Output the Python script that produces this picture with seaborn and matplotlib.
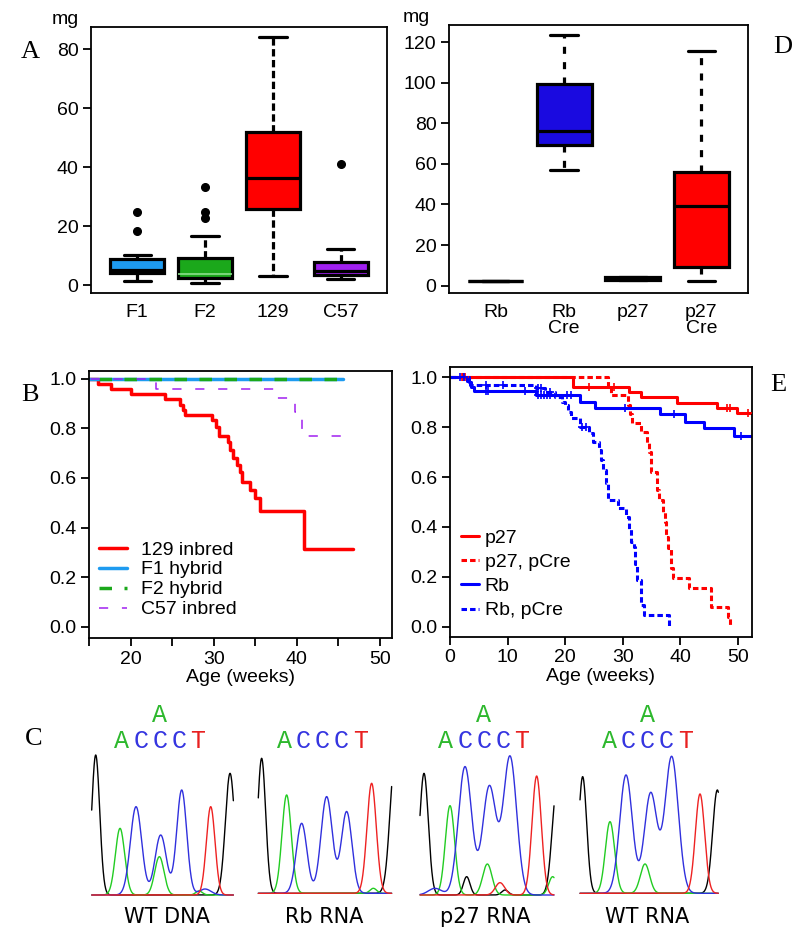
import numpy as np
import matplotlib
matplotlib.use('Agg')
import matplotlib.pyplot as plt
import seaborn as sns

# ---- A: tumour weight (mg) by strain, box summaries
a_groups = ['F1', 'F2', '129', 'C57']
a_q1 = [4.2, 2.5, 25.9, 3.3]
a_med = [5.1, 3.7, 36.2, 4.6]
a_q3 = [8.7, 9.0, 51.8, 7.9]
a_lo = [1.4, 0.7, 3.2, 1.9]
a_hi = [10.2, 16.6, 84.2, 12.1]
a_out = [[18.3, 24.6], [22.9, 24.6, 33.1], [], [41.2]]
a_colors = ['#1E9BF0', '#1BA81B', '#FF0000', '#A020F0']

# ---- D: tumour weight (mg) by genotype
d_groups = ['Rb', 'Rb\nCre', 'p27', 'p27\nCre']
d_q1 = [2.3, 69.3, 3.0, 9.4]
d_med = [2.3, 76.3, 3.6, 39.3]
d_q3 = [2.3, 99.2, 4.2, 56.0]
d_lo = [2.3, 57.0, 3.0, 2.3]
d_hi = [2.3, 123.5, 4.2, 115.8]
d_out = [[], [], [], []]
d_colors = ['#1A0AE0', '#1A0AE0', '#FF0000', '#FF0000']

# ---- B: survival by strain (event times in weeks, survival after event)
b_129_t = [16.1, 17.6, 20.1, 24.1, 26.0, 26.3, 26.6, 29.75, 30.27, 30.67, 31.75, 32.0,
           32.35, 32.75, 33.15, 33.36, 34.4, 34.97, 35.57, 40.8]
b_129_s = [0.981, 0.958, 0.938, 0.918, 0.895, 0.874, 0.853, 0.833, 0.806, 0.770, 0.746, 0.712,
           0.679, 0.652, 0.625, 0.585, 0.551, 0.518, 0.467, 0.312]
b_129_end = 46.7
b_f1_end = 45.5
b_f2_end = 44.8
b_c57_t = [23.0, 37.4, 39.8, 40.6]
b_c57_s = [0.961, 0.921, 0.867, 0.769]
b_c57_end = 46.6

# ---- E: survival by genotype
e_p27_t = [21.3, 31.1, 33.2, 39.5, 46.3, 49.9]
e_p27_s = [0.962, 0.942, 0.922, 0.898, 0.876, 0.855]
e_p27_cens = [2.0, 2.6, 24.2, 28.4, 48.1, 48.6, 51.8]
e_p27cre_t = [27.4, 28.0, 31.0, 31.3, 31.6, 33.2, 34.3, 34.6, 34.9, 36.0, 36.3, 37.0,
              37.3, 37.6, 37.8, 38.3, 38.7, 41.5, 45.3, 48.2, 48.7]
e_p27cre_s = [0.962, 0.929, 0.889, 0.852, 0.815, 0.782, 0.735, 0.70, 0.621, 0.55, 0.508, 0.46,
              0.42, 0.36, 0.314, 0.234, 0.194, 0.154, 0.078, 0.04, 0.0]
e_p27cre_cens = [2.3]
e_rb_t = [3.3, 3.7, 4.2, 15.0, 22.5, 25.1, 36.5, 40.9, 44.1, 49.4]
e_rb_s = [0.982, 0.962, 0.946, 0.929, 0.902, 0.876, 0.853, 0.822, 0.796, 0.765]
e_rb_cens = [1.8, 2.4, 6.3, 6.6, 13.0, 15.3, 15.8, 16.3, 16.8, 17.4, 20.3, 21.1, 30.4, 38.9, 50.6]
e_rbcre_t = [3.0, 3.4, 15.0, 16.5, 18.3, 19.5, 19.9, 20.5, 21.0, 22.5, 24.2, 24.8, 25.9,
             26.3, 26.6, 27.1, 27.4, 29.1, 30.6, 31.1, 31.4, 32.0, 32.2, 32.5, 33.2, 33.7, 38.1]
e_rbcre_s = [0.985, 0.970, 0.956, 0.942, 0.92, 0.90, 0.889, 0.862, 0.836, 0.802, 0.775, 0.742,
             0.708, 0.668, 0.628, 0.575, 0.508, 0.475, 0.441, 0.39, 0.341, 0.321, 0.25, 0.187,
             0.087, 0.047, 0.0]
e_rbcre_cens = [6.3, 9.2, 15.2, 15.8, 17.3, 23.0, 23.6]
e_end = 52.4

# ---- C: chromatogram peaks (centre, height, width) per base trace
c_names = ['WT DNA', 'Rb RNA', 'p27 RNA', 'WT RNA']
c_extra_a = [True, False, True, True]
c_width = [425, 400, 402, 415]
c_black = [[(12, 420, 12), (415, 365, 14)],
           [(10, 405, 12), (410, 400, 15)],
           [(12, 365, 13), (140, 55, 10), (255, 15, 10), (410, 315, 14)],
           [(8, 350, 12), (412, 310, 14)]]
c_green = [[(85, 200, 14), (203, 115, 14), (322, 12, 10)],
           [(85, 295, 14), (345, 15, 10)],
           [(90, 268, 14), (202, 93, 14), (398, 55, 12)],
           [(90, 215, 14), (195, 88, 14)]]
c_blue = [[(133, 265, 17), (207, 180, 17), (270, 315, 15), (340, 18, 18)],
          [(130, 210, 16), (205, 290, 17), (265, 245, 16)],
          [(45, 20, 20), (135, 385, 20), (208, 325, 20), (270, 415, 20)],
          [(138, 355, 19), (212, 300, 19), (275, 410, 20)]]
c_red = [[(357, 265, 13)],
         [(340, 330, 14)],
         [(240, 37, 14), (350, 357, 14)],
         [(360, 298, 14)]]

sns.set_style('ticks')
plt.rcParams['font.family'] = ['Liberation Sans', 'DejaVu Sans']
plt.rcParams['axes.linewidth'] = 1.3
plt.rcParams['axes.edgecolor'] = 'black'
plt.rcParams['xtick.color'] = 'black'
plt.rcParams['ytick.color'] = 'black'
plt.rcParams['text.color'] = 'black'
plt.rcParams['axes.labelcolor'] = 'black'

fig = plt.figure(figsize=(8, 9.31), dpi=100)


def px_axes(l, t, r, b):
    return fig.add_axes([l / 800, 1 - b / 931, (r - l) / 800, (b - t) / 931])


def box_panel(ax, names, q1, med, q3, lo, hi, out, colors, wdash):
    stats = []
    for i in range(len(names)):
        stats.append(dict(label=names[i], q1=q1[i], med=med[i], q3=q3[i],
                          whislo=lo[i], whishi=hi[i], fliers=out[i]))
    art = ax.bxp(stats, positions=list(range(1, len(names) + 1)), widths=0.8, capwidths=0.4,
                 patch_artist=True,
                 boxprops=dict(linewidth=2.3, edgecolor='black'),
                 whiskerprops=dict(linewidth=2.3, color='black', linestyle=(0, wdash)),
                 capprops=dict(linewidth=2.3, color='black'),
                 medianprops=dict(linewidth=2.3, color='black'),
                 flierprops=dict(marker='o', markerfacecolor='black', markeredgecolor='black',
                                 markersize=5.5))
    for patch, c in zip(art['boxes'], colors):
        patch.set_facecolor(c)
    ax.set_xlim(0.32, len(names) + 0.68)
    ax.tick_params(axis='x', length=0, pad=8, labelsize=14)
    ax.tick_params(axis='y', length=6, width=1.3, pad=3, labelsize=14)
    return art


def km_line(ax, t_ev, s_ev, t_end, color, lw, ls, label):
    x = [0.0] + list(t_ev)
    y = [1.0] + list(s_ev)
    if t_end is not None:
        x.append(t_end)
        y.append(y[-1])
    sns.lineplot(x=x, y=y, ax=ax, color=color, lw=lw, linestyle=ls, drawstyle='steps-post',
                 estimator=None, sort=False, label=label)


def surv_at(times, t_ev, s_ev):
    idx = np.searchsorted(t_ev, times, side='right')
    s = np.concatenate([[1.0], s_ev])
    return s[idx]


# ---------- A
axA = px_axes(91, 27, 387, 293)
art = box_panel(axA, a_groups, a_q1, a_med, a_q3, a_lo, a_hi, a_out, a_colors, (2.3, 1.1))
art['medians'][1].set_color('#8CE08C')
art['medians'][1].set_linewidth(1.2)
axA.set_ylim(-2.7, 87.5)
axA.set_yticks([0, 20, 40, 60, 80])

# ---------- D
axD = px_axes(449, 25, 748, 293)
box_panel(axD, d_groups, d_q1, d_med, d_q3, d_lo, d_hi, d_out, d_colors, (2.2, 2.6))
axD.set_ylim(-3.6, 128.4)
axD.set_yticks([0, 20, 40, 60, 80, 100, 120])
for lab in axD.get_xticklabels():
    lab.set_linespacing(0.95)
    lab.set_va('top')

# ---------- B
axB = px_axes(89, 370.7, 391.7, 638.3)
km_line(axB, b_129_t, b_129_s, b_129_end, '#FF0000', 2.5, '-', '129 inbred')
km_line(axB, [], [], b_f1_end, '#1E9BF0', 2.5, '-', 'F1 hybrid')
km_line(axB, [], [], b_f2_end, '#1BA81B', 2.5, (0, (3.6, 3.6)), 'F2 hybrid')
km_line(axB, b_c57_t, b_c57_s, b_c57_end, '#A020F0', 1.1, (0, (6, 9)), 'C57 inbred')
axB.set_xlim(15, 51.4)
axB.set_ylim(-0.047, 1.033)
axB.set_xticks([15, 20, 25, 30, 35, 40, 45, 50])
axB.set_xticklabels(['', '20', '', '30', '', '40', '', '50'])
axB.set_yticks([0, 0.2, 0.4, 0.6, 0.8, 1.0])
axB.set_yticklabels(['0.0', '0.2', '0.4', '0.6', '0.8', '1.0'])
axB.set_xlabel('Age (weeks)', fontsize=14, labelpad=1)
axB.tick_params(length=6, width=1.3, pad=3, labelsize=14)
axB.legend(loc='lower left', bbox_to_anchor=(0.02, 0.06), frameon=False, fontsize=14,
           handlelength=1.45, handletextpad=0.7, labelspacing=0.12, borderaxespad=0,
           borderpad=0.2)

# ---------- E
axE = px_axes(450, 366.7, 751.7, 636.7)
km_line(axE, e_p27_t, e_p27_s, e_end, '#FF0000', 2.2, '-', 'p27')
km_line(axE, e_p27cre_t, e_p27cre_s, None, '#FF0000', 2.2, (0, (1.8, 1.0)), 'p27, pCre')
km_line(axE, e_rb_t, e_rb_s, e_end, '#0000FF', 2.2, '-', 'Rb')
km_line(axE, e_rbcre_t, e_rbcre_s, None, '#0000FF', 2.2, (0, (1.8, 1.0)), 'Rb, pCre')
for cens, t_ev, s_ev, col in [(e_p27_cens, e_p27_t, e_p27_s, '#FF0000'),
                              (e_p27cre_cens, e_p27cre_t, e_p27cre_s, '#FF0000'),
                              (e_rb_cens, e_rb_t, e_rb_s, '#0000FF'),
                              (e_rbcre_cens, e_rbcre_t, e_rbcre_s, '#0000FF')]:
    sns.scatterplot(x=cens, y=surv_at(cens, t_ev, s_ev), ax=axE, marker='+', s=30,
                    color=col, linewidth=1.2, legend=False, zorder=5)
axE.set_xlim(0, e_end)
axE.set_ylim(-0.04, 1.0425)
axE.set_xticks([0, 10, 20, 30, 40, 50])
axE.set_yticks([0, 0.2, 0.4, 0.6, 0.8, 1.0])
axE.set_yticklabels(['0.0', '0.2', '0.4', '0.6', '0.8', '1.0'])
axE.set_xlabel('Age (weeks)', fontsize=14, labelpad=1)
axE.tick_params(length=6, width=1.3, pad=3, labelsize=14)
axE.legend(loc='lower left', bbox_to_anchor=(0.025, 0.05), frameon=False, fontsize=14,
           handlelength=0.9, handletextpad=0.3, labelspacing=0.33, borderaxespad=0,
           borderpad=0.2)

# ---------- C: chromatograms
c_boxes = [(91.7, 895.0), (258.3, 893.3), (420.0, 895.0), (580.0, 893.3)]
c_label_x = [166.7, 324.0, 485.0, 647.5]
c_seq_x = [160.0, 322.5, 484.0, 647.5]
seq = 'ACCCT'
seq_col = {'A': '#2DB82D', 'C': '#3535E0', 'T': '#E82020'}
for i in range(4):
    left, base = c_boxes[i]
    w = c_width[i]
    ax = px_axes(left, base - 440 / 3, left + w / 3, base)
    xs = np.linspace(0, w, 700)
    for peaks, col in [(c_black[i], 'black'), (c_green[i], '#22CC22'),
                       (c_blue[i], '#3030DD'), (c_red[i], '#EE2222')]:
        ys = np.zeros_like(xs)
        for c, h, sd in peaks:
            ys += h * np.exp(-0.5 * ((xs - c) / sd) ** 2)
        ax.plot(xs, ys, color=col, lw=1.0, clip_on=False)
    ax.set_xlim(0, w)
    ax.set_ylim(0, 440)
    ax.axis('off')
    fig.text(c_label_x[i] / 800, 1 - 917 / 931, c_names[i], ha='center', va='center',
             fontsize=15, family='DejaVu Sans')
    for k, ch in enumerate(seq):
        fig.text((c_seq_x[i] + (k - 2) * 19) / 800, 1 - 741 / 931, ch, ha='center',
                 va='center', fontsize=18, family=['Liberation Mono', 'DejaVu Sans Mono'],
                 color=seq_col[ch])
    if c_extra_a[i]:
        fig.text(c_seq_x[i] / 800, 1 - 715 / 931, 'A', ha='center', va='center',
                 fontsize=18, family=['Liberation Mono', 'DejaVu Sans Mono'],
                 color=seq_col['A'])

# ---------- labels
fig.text(65 / 800, 1 - 19 / 931, 'mg', ha='center', va='center', fontsize=14)
fig.text(416 / 800, 1 - 17 / 931, 'mg', ha='center', va='center', fontsize=14)
for letter, x, y in [('A', 30, 52), ('D', 783, 47), ('B', 30, 395), ('E', 778, 385), ('C', 34, 739)]:
    fig.text(x / 800, 1 - y / 931, letter, ha='center', va='center', fontsize=19,
             family='Liberation Serif')

fig.savefig('out.png', dpi=100, facecolor='white')
